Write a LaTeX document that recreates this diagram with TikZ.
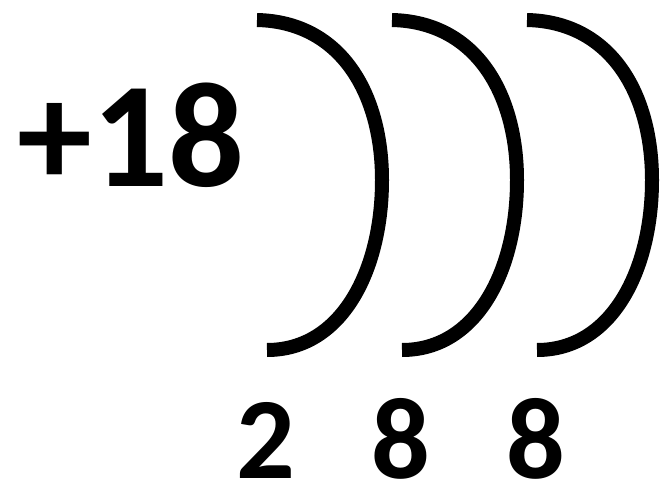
\documentclass[tikz,border=0pt]{standalone}
\usepackage{fontspec}
\setmainfont{Carlito}
\usetikzlibrary{positioning}

\begin{document}
\begin{tikzpicture}[x=1pt,y=-1pt,font=\bfseries]
  \useasboundingbox (0,0) rectangle (661,489);
  % nucleus charge
  \node[anchor=base,inner sep=0pt,font=\fontsize{150}{150}\selectfont\bfseries] (charge) at (131,187) {+18};
  % shells with electron counts
  \foreach \x/\n [count=\i] in {257/2,392/8,527/8}{
    \draw[line width=14pt] (\x,20) .. controls ({\x+85},22) and ({\x+125},95) .. ({\x+125},180)
      .. controls ({\x+125},270) and ({\x+85},350) .. ({\x+10},350);
    \node[anchor=base,inner sep=0pt,font=\fontsize{116}{116}\selectfont\bfseries] (shell\i) at ({\x+9},478) {\n};
  }
\end{tikzpicture}
\end{document}
